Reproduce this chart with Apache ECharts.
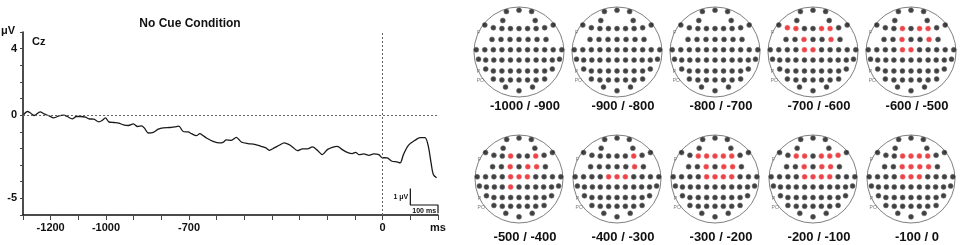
<!DOCTYPE html>
<html>
<head>
<meta charset="utf-8">
<script src="https://cdn.jsdelivr.net/npm/echarts@6/dist/echarts.min.js"></script>
<style>
  html, body { margin: 0; padding: 0; background: #fff; }
  #chart { width: 964px; height: 245px; }
</style>
</head>
<body>
<div id="chart"></div>
<script>
// ERP at Cz, No Cue Condition
var erpTime = [-1298, -1284, -1272, -1260, -1238, -1224, -1206, -1188, -1170, -1152, -1140, -1122, -1107, -1092,
  -1074, -1062, -1044, -1026, -1014, -1002, -990, -972, -954, -937, -919, -901, -886, -871, -861, -847, -829,
  -811, -793, -769, -751, -737, -721, -703, -691, -673, -661, -649, -637, -613, -589, -577, -565, -547, -529,
  -511, -487, -463, -440, -422, -410, -392, -374, -356, -338, -326, -308, -290, -272, -254, -236, -218, -200,
  -182, -164, -146, -128, -110, -98, -86, -68, -50, -32, -14, -2, 16, 34, 51, 63, 75, 93, 117, 135, 153, 165,
  175, 183, 195];
var erpValue = [0.02, 0.22, 0.12, -0.02, 0.2, 0.08, -0.04, -0.16, -0.04, 0, -0.08, -0.22, -0.08, -0.08,
  -0.12, -0.22, -0.24, -0.4, -0.32, -0.16, -0.4, -0.44, -0.48, -0.58, -0.62, -0.52, -0.68, -0.64, -0.78, -1.07, -1.03,
  -0.84, -0.76, -0.74, -0.7, -0.66, -0.98, -1.01, -1.11, -1.23, -1.11, -1.23, -1.37, -1.57, -1.67, -1.63, -1.49, -1.51, -1.33,
  -1.61, -1.71, -1.75, -1.87, -1.97, -2.11, -1.97, -1.81, -1.67, -1.77, -1.91, -2.13, -2.03, -2.03, -1.91, -2.11, -2.37, -2.07,
  -1.93, -1.87, -2.07, -2.23, -2.31, -2.23, -2.37, -2.33, -2.41, -2.33, -2.37, -2.55, -2.57, -2.77, -2.81, -2.87, -2.37, -1.81, -1.51, -1.35, -1.35, -1.87,
  -2.87, -3.56, -3.76];

var xLabels = { '-1200': '-1200', '-1000': '-1000', '-700': '-700', '0': '0', '200': 'ms' };
var yLabels = { '4': '4', '0': '0', '-5': '-5' };

// scale bar (1 µV / 100 ms)
var scaleBar = [[100, -4.4], [100, -4.9], [100, -5.4], [150, -5.4], [200, -5.4], [200, -5.9]];

// electrode montage, rows front to back, head radius = 1
var montage = [
  [[-0.28, 0.9], [0, 0.93], [0.28, 0.9]],
  [[-0.36, 0.7], [0.36, 0.7]],
  [[-0.76, 0.6], [-0.57, 0.54], [-0.38, 0.52], [-0.19, 0.52], [0, 0.52], [0.19, 0.52], [0.38, 0.52], [0.57, 0.54], [0.76, 0.6]],
  [[-0.6, 0.28], [-0.4, 0.28], [-0.2, 0.28], [0, 0.28], [0.2, 0.28], [0.4, 0.28], [0.6, 0.28]],
  [[-0.95, 0.05], [-0.76, 0.05], [-0.57, 0.05], [-0.38, 0.05], [-0.19, 0.05], [0, 0.05], [0.19, 0.05], [0.38, 0.05], [0.57, 0.05], [0.76, 0.05], [0.95, 0.05]],
  [[-0.9, -0.16], [-0.74, -0.18], [-0.56, -0.18], [-0.38, -0.18], [-0.19, -0.18], [0, -0.18], [0.19, -0.18], [0.38, -0.18], [0.56, -0.18], [0.74, -0.18], [0.9, -0.16]],
  [[-0.74, -0.38], [-0.57, -0.42], [-0.38, -0.42], [-0.19, -0.42], [0, -0.42], [0.19, -0.42], [0.38, -0.42], [0.57, -0.42], [0.74, -0.38]],
  [[-0.57, -0.6], [-0.38, -0.62], [-0.19, -0.62], [0, -0.62], [0.19, -0.62], [0.38, -0.62], [0.57, -0.6]],
  [[-0.3, -0.78], [0, -0.86], [0.3, -0.78]]
];
var sideLabels = [['F', -0.9, 0.44], ['FC', -1.08, 0.2], ['C', -1.1, 0.04], ['CP', -1.08, -0.2], ['P', -0.9, -0.44], ['PO', -0.86, -0.64]];

var panelLabels = ['-1000 / -900', '-900 / -800', '-800 / -700', '-700 / -600', '-600 / -500',
  '-500 / -400', '-400 / -300', '-300 / -200', '-200 / -100', '-100 / 0'];
// significant electrodes per window, [row, index]
var redSets = [
  [],
  [],
  [],
  [[2, 1], [2, 2], [2, 5], [2, 6], [3, 2], [3, 5], [4, 4], [4, 5]],
  [[2, 3], [2, 5], [2, 6], [3, 2], [3, 5], [4, 4], [4, 5]],
  [[2, 3], [2, 6], [3, 2], [3, 4], [3, 5], [4, 4], [4, 5], [4, 6], [5, 4]],
  [[2, 6], [3, 5], [4, 4], [4, 5], [4, 6]],
  [[2, 2], [2, 3], [2, 4], [2, 5], [2, 6], [3, 2], [3, 4], [3, 5], [4, 4], [4, 5], [4, 6], [4, 7]],
  [[2, 2], [2, 3], [2, 5], [2, 6], [2, 7], [3, 2], [3, 4], [3, 5], [4, 4], [4, 5], [4, 6], [4, 7]],
  [[2, 3], [2, 4], [2, 5], [2, 6], [3, 2], [3, 3], [3, 4], [3, 5], [4, 4], [4, 5], [4, 6]]
];

var myChart = echarts.init(document.getElementById('chart'));
var font = 'Arial, "Liberation Sans", sans-serif';

var grids = [{ left: 23, top: 32, width: 415, height: 183 }];
var xAxes = [{
  type: 'value', min: -1300, max: 200, interval: 100, gridIndex: 0,
  axisLine: { onZero: false, lineStyle: { color: '#111', width: 1.5 } },
  axisTick: { inside: false, length: 5, lineStyle: { color: '#444' } },
  axisLabel: {
    margin: 7, color: '#111', fontWeight: 'bold', fontSize: 11, fontFamily: font,
    formatter: function (v) { return xLabels[String(v)] || ''; }
  },
  splitLine: { show: false }
}];
var yAxes = [{
  type: 'value', min: -6, max: 5, interval: 1, gridIndex: 0,
  axisLine: { show: true, onZero: false, lineStyle: { color: '#111', width: 1.5 } },
  axisTick: { show: true, length: 3, lineStyle: { color: '#444' } },
  axisLabel: {
    margin: 6, color: '#111', fontWeight: 'bold', fontSize: 11, fontFamily: font,
    formatter: function (v) { return yLabels[String(v)] || ''; }
  },
  splitLine: { show: false }
}];

var series = [{
  type: 'line', xAxisIndex: 0, yAxisIndex: 0,
  data: erpTime.map(function (t, i) { return [t, erpValue[i]]; }),
  showSymbol: false, smooth: 0.3,
  lineStyle: { color: '#1a1a1a', width: 1.3 },
  markLine: {
    silent: true, symbol: 'none', label: { show: false },
    lineStyle: { color: '#666', type: [2, 2], width: 1 },
    data: [{ xAxis: 0 }, { yAxis: 0 }]
  }
}, {
  type: 'line', xAxisIndex: 0, yAxisIndex: 0,
  data: scaleBar.map(function (p, i) {
    var item = { value: p };
    if (i === 1) item.label = { show: true, formatter: '1 μV', position: 'left', distance: 2, fontSize: 7 };
    if (i === 3) item.label = { show: true, formatter: '100 ms', position: 'bottom', distance: 2, fontSize: 7 };
    return item;
  }),
  symbol: 'circle', symbolSize: 0.1, showSymbol: true,
  label: { show: false, color: '#111', fontWeight: 'bold', fontFamily: font },
  lineStyle: { color: '#111', width: 1.2 },
  itemStyle: { color: '#111' }
}];

var centersX = [519, 617, 715, 813, 911];
var graphics = [
  { type: 'text', x: 190, y: 24, style: { text: 'No Cue Condition', font: 'bold 12px ' + font, fill: '#111', align: 'center', verticalAlign: 'middle' } },
  { type: 'text', x: 1, y: 31, style: { text: 'μV', font: 'bold 11px ' + font, fill: '#111', align: 'left', verticalAlign: 'middle' } },
  { type: 'text', x: 32, y: 42, style: { text: 'Cz', font: 'bold 11px ' + font, fill: '#111', align: 'left', verticalAlign: 'middle' } }
];

panelLabels.forEach(function (lab, p) {
  var row = p < 5 ? 0 : 1;
  var cx = centersX[p % 5];
  var cy = row === 0 ? 52 : 179;
  var r = row === 0 ? 45 : 44;
  var gi = p + 1;
  grids.push({ left: cx - r, top: cy - r, width: 2 * r, height: 2 * r });
  xAxes.push({ type: 'value', gridIndex: gi, min: -1, max: 1, show: false });
  yAxes.push({ type: 'value', gridIndex: gi, min: -1, max: 1, show: false });

  var red = {};
  redSets[p].forEach(function (e) { red[e[0] + '_' + e[1]] = true; });
  var pts = [];
  montage.forEach(function (rowPts, ri) {
    rowPts.forEach(function (pt, k) {
      var isRed = red[ri + '_' + k];
      pts.push({
        value: pt,
        itemStyle: isRed
          ? { color: '#e8141a', borderColor: '#f07070', borderWidth: 0.7 }
          : { color: '#111', borderColor: '#707070', borderWidth: 0.7 }
      });
    });
  });

  // head outline, nose and ears
  series.push({
    type: 'scatter', xAxisIndex: gi, yAxisIndex: gi, silent: true, z: 1,
    data: [
      { value: [0, 0], symbol: 'circle', symbolSize: 2 * r },
      { value: [0, 1.05], symbol: 'path://M0,12 C0,-2 10,-2 10,12', symbolSize: [7, 6] },
      { value: [-1.02, 0.06], symbol: 'path://M10,0 C2,2 2,18 10,20', symbolSize: [3, 10] },
      { value: [1.02, 0.06], symbol: 'path://M0,0 C8,2 8,18 0,20', symbolSize: [3, 10] }
    ],
    itemStyle: { color: 'rgba(0,0,0,0)', borderColor: '#5f5f5f', borderWidth: 1 }
  });
  series.push({
    type: 'scatter', xAxisIndex: gi, yAxisIndex: gi, silent: true, z: 2,
    data: sideLabels.map(function (s) { return { value: [s[1], s[2]], name: s[0] }; }),
    symbolSize: 0.1,
    label: { show: true, position: 'inside', formatter: '{b}', fontSize: 5, color: '#555', fontFamily: font }
  });
  series.push({
    type: 'scatter', xAxisIndex: gi, yAxisIndex: gi, silent: true, z: 3,
    data: pts, symbolSize: 5
  });

  graphics.push({
    type: 'text', x: cx + 6, y: row === 0 ? 106 : 237,
    style: { text: lab, font: 'bold 13px ' + font, fill: '#111', align: 'center', verticalAlign: 'middle' }
  });
});

var option = {
  animation: false,
  backgroundColor: '#fff',
  grid: grids,
  xAxis: xAxes,
  yAxis: yAxes,
  series: series,
  graphic: graphics
};
option && myChart.setOption(option);
window.addEventListener('resize', function () { myChart.resize(); });
</script>
</body>
</html>
